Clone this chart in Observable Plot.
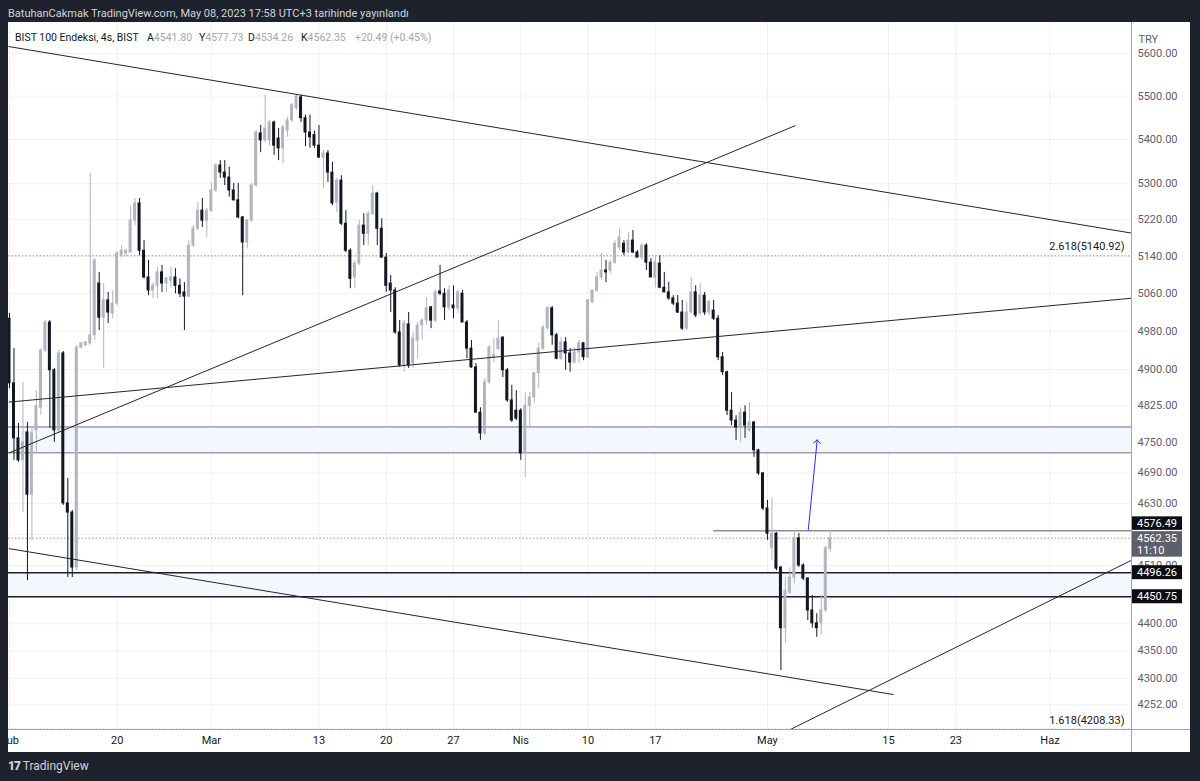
<!DOCTYPE html>
<html><head><meta charset="utf-8">
<script src="https://cdn.jsdelivr.net/npm/d3@7"></script>
<script src="https://cdn.jsdelivr.net/npm/@observablehq/plot@0.6"></script>
<style>
html,body{margin:0;padding:0;background:#1e222d;width:1200px;height:781px;overflow:hidden;font-family:Roboto,"Liberation Sans",sans-serif;}
#top{position:absolute;left:8px;top:7px;color:#d1d4dc;font-size:11px;white-space:pre;}
#panel{position:absolute;left:8px;top:22px;width:1182px;height:730px;background:#fff;overflow:hidden;}
#legend{position:absolute;left:0;top:9px;font-size:10.5px;color:#131722;white-space:pre;}
#legend span{position:absolute;top:0;}
#legend .v{color:#a3a6af;position:static;}
#logo{position:absolute;left:8px;top:759px;color:#d1d4dc;font-size:12px;white-space:pre;}
#logo b{font-weight:900;letter-spacing:-1px;}
.sepV{position:absolute;left:1123px;top:0;width:1px;height:730px;background:#a3a6af;}
.sepH{position:absolute;left:0;top:707px;width:1182px;height:1px;background:#a3a6af;}
</style></head><body>
<div id="top">BatuhanCakmak TradingView.com, May 08, 2023 17:58 UTC+3 tarihinde yayınlandı</div>
<div id="panel"><div id="chart"></div><div class="sepV"></div><div class="sepH"></div><div id="legend"></div></div>
<div id="logo"><b>17</b> TradingView</div>
<script>
// ---- data (BIST 100, 4h candles, index 0 = 1 Feb 2023) ----
const open = [5006,4871,4759,4715,4771,4647,4775,4821,4939,4998,4898,4775,4933,4630,4612,4506,4945,4950,4954,4971,
5081,5008,5045,5017,5038,5141,5146,5148,5218,5256,5152,5094,5066,5076,5105,5081,5087,5094,5076,5062,
5053,5163,5200,5240,5218,5240,5285,5341,5325,5314,5285,5263,5225,5170,5218,5296,5414,5398,5398,5439,
5402,5380,5421,5444,5472,5497,5449,5416,5410,5386,5359,5368,5325,5258,5307,5211,5152,5094,5124,5207,
5189,5233,5278,5200,5137,5081,5066,4977,4908,4994,4912,4960,4992,5002,5030,5002,5064,5059,5030,5034,
5028,5059,4998,4943,4904,4811,4769,4873,4925,4943,4966,4898,4836,4815,4815,4729,4825,4842,4892,4943,
4987,5028,4971,4922,4956,4933,4914,4935,4954,4925,5041,5066,5094,5109,5109,5126,5159,5167,5148,5174,
5148,5137,5163,5126,5094,5124,5072,5062,5049,5038,5019,4985,5019,5062,5017,5055,5019,5023,5006,4925,
4894,4815,4795,4781,4811,4775,4791,4735,4689,4620,4543,4571,4506,4392,4458,4487,4562,4510,4485,4425,
4401,4401,4425,4541.80];
const high = [5017,4943,4789,4873,4791,4779,4856,4943,5002,5002,4902,4939,4937,4679,4616,4950,4956,4958,5323,5135,
5105,5081,5062,5066,5150,5163,5156,5251,5267,5267,5174,5131,5083,5116,5120,5094,5116,5113,5091,5083,
5174,5207,5258,5267,5245,5303,5345,5352,5352,5337,5301,5301,5227,5220,5301,5421,5432,5502,5444,5442,
5425,5432,5451,5483,5504,5502,5456,5456,5419,5432,5375,5375,5348,5312,5318,5240,5156,5131,5218,5233,
5238,5296,5281,5222,5146,5098,5072,5002,5002,5019,4977,4998,5006,5051,5032,5066,5120,5070,5076,5076,
5066,5066,5002,4960,4912,4821,4881,4950,4964,5002,4968,4902,4867,4856,4819,4852,4852,4894,4954,4992,
5032,5032,4975,4966,4966,4943,4945,4960,4956,5045,5066,5105,5146,5131,5131,5174,5200,5174,5192,5196,
5152,5167,5167,5135,5141,5141,5105,5083,5055,5055,5045,5041,5094,5076,5081,5062,5045,5045,5013,4935,
4896,4852,4805,4821,4825,4832,4793,4737,4691,4636,4640,4573,4508,4487,4506,4577,4571,4513,4487,4453,
4419,4453,4547,4577.73];
const low = [4860,4715,4711,4612,4481,4558,4731,4805,4935,4779,4751,4769,4626,4487,4487,4500,4943,4948,4950,4960,
4981,4902,4996,5006,5034,5137,5139,5146,5207,5141,5091,5055,5049,5049,5062,5062,5072,5059,5051,4981,
5051,5159,5196,5203,5181,5236,5281,5312,5296,5270,5261,5222,5055,5156,5214,5292,5370,5393,5386,5364,
5352,5345,5405,5439,5467,5439,5384,5380,5380,5357,5289,5303,5251,5236,5207,5148,5070,5070,5120,5163,
5163,5229,5163,5135,5062,5019,4973,4904,4894,4902,4902,4922,4960,4992,4985,4998,5055,5002,5023,5006,
5017,4998,4922,4902,4811,4755,4765,4869,4914,4939,4883,4832,4791,4795,4715,4681,4781,4830,4860,4939,
4981,4950,4920,4918,4898,4894,4912,4912,4918,4922,5038,5062,5087,5083,5102,5122,5152,5141,5146,5146,
5137,5131,5109,5094,5072,5070,5062,5045,5034,5017,4981,4981,5017,5008,5013,5013,5013,5002,4918,4887,
4805,4785,4755,4751,4759,4771,4721,4685,4616,4558,4519,4500,4314,4364,4456,4475,4506,4481,4406,4392,
4375,4379,4421,4534.26];
const close = [4871,4759,4715,4751,4647,4769,4824,4939,4998,4898,4775,4933,4630,4612,4506,4945,4954,4956,4971,5131,
5008,5045,5019,5038,5146,5152,5152,5218,5256,5152,5094,5066,5076,5105,5081,5091,5094,5076,5059,5053,
5163,5200,5240,5218,5240,5285,5341,5325,5314,5285,5263,5225,5170,5218,5296,5416,5398,5425,5439,5386,
5380,5428,5444,5479,5499,5449,5416,5405,5386,5359,5368,5325,5256,5307,5211,5152,5091,5124,5207,5189,
5233,5278,5200,5137,5076,5066,4977,4908,4996,4908,4964,4992,5002,5028,5002,5062,5059,5030,5066,5028,
5062,4998,4943,4904,4811,4769,4873,4945,4929,4964,4898,4836,4795,4799,4729,4825,4842,4892,4943,4987,
5028,4971,4922,4956,4933,4914,4935,4954,4925,5045,5066,5094,5109,5105,5126,5167,5181,5148,5174,5148,
5137,5163,5126,5094,5126,5072,5062,5049,5038,5019,4985,5019,5062,5013,5055,5019,5041,5006,4925,4894,
4815,4795,4781,4811,4785,4791,4735,4689,4620,4571,4571,4504,4392,4462,4487,4562,4510,4485,4425,4401,
4392,4425,4543,4562.35];

const timeTickIdx = [0,24,45,69,84,99,114,129,144,169,196,211,232];
const timeTickLabels = ["Şub","20","Mar","13","20","27","Nis","10","17","May","15","23","Haz"];
const priceGrid = [5600,5500,5400,5300,5220,5140,5060,4980,4900,4825,4750,4690,4630,4570,4510,4450,4400,4350,4300,4252];
const priceLabels = [5600,5500,5400,5300,5220,5140,5060,4980,4900,4825,4750,4690,4630,4510,4400,4350,4300,4252];

// trend lines (bar index, price)
const trendX1 = [-0.223, -0.15, -0.15, -0.15, 174.1];
const trendP1 = [5616.6, 4729.6, 4832.5, 4542.3, 4207.8];
const trendX2 = [250.17, 175.25, 250.17, 197.1, 250.17];
const trendP2 = [5190.5, 5432, 5049.5, 4270.4, 4520];

const zoneTop = [4782, 4496.26];
const zoneBottom = [4730, 4450.75];
const resistanceLevel = 4576.49, resistanceStart = 157;
const fibLevels = [5140.92, 4208.33];
const fibLabels = ["2.618(5140.92)", "1.618(4208.33)"];
const lastPrice = 4562.35;
const arrowFrom = [178.1, 4578], arrowTo = [180.1, 4756];
const boxValues = [4576.49, 4562.35, 4496.26, 4450.75];
const boxTexts = [["4576.49"], ["4562.35", "11:10"], ["4496.26"], ["4450.75"]];
const change = "+20.49", changePct = "(+0.45%)";

// ---- build ----
const candles = open.map((o, i) => ({i, o, h: high[i], l: low[i], c: close[i], up: close[i] >= o}));
const trends = trendX1.map((x, k) => ({x1: x, y1: trendP1[k], x2: trendX2[k], y2: trendP2[k]}));
const zones = zoneTop.map((t, k) => ({top: t, bottom: zoneBottom[k], k}));
const tickLabel = new Map(timeTickIdx.map((d, k) => [d, timeTickLabels[k]]));

const W = 1182, H = 730, MR = 59, MB = 23;
const xDomain = [-0.223, 250.17];
const yDomain = [4207.8, 5673.9];
const UP = "#b2b5be", DOWN = "#131722";
const FONT = "Roboto, 'Liberation Sans', sans-serif";

const plot = Plot.plot({
  width: W, height: H, marginTop: 0, marginLeft: 0, marginRight: MR, marginBottom: MB,
  x: {domain: xDomain, axis: null},
  y: {type: "log", domain: yDomain, axis: null},
  style: {fontFamily: FONT, fontSize: "11px", background: "transparent", overflow: "hidden"},
  marks: [
    Plot.gridY(priceGrid, {stroke: "#eef0f5", strokeOpacity: 1}),
    Plot.gridX(timeTickIdx, {stroke: "#eef0f5", strokeOpacity: 1}),
    Plot.rect(zones, {y1: "top", y2: "bottom", fill: "#f2f8fd"}),
    Plot.ruleY(zones.filter(z => z.k === 0).flatMap(z => [z.top, z.bottom]), {stroke: "#6e717c", strokeWidth: 1}),
    Plot.ruleY(zones.filter(z => z.k === 1).flatMap(z => [z.top, z.bottom]), {stroke: "#1c1f28", strokeWidth: 1.5}),
    Plot.ruleY(fibLevels, {stroke: "#9598a1", strokeDasharray: "1.5,2", strokeWidth: 1}),
    Plot.ruleY([lastPrice], {stroke: "#9598a1", strokeDasharray: "1.5,2", strokeWidth: 1}),
    Plot.ruleY([resistanceLevel], {x1: resistanceStart, x2: xDomain[1], stroke: "#555862", strokeWidth: 1}),
    Plot.ruleX(candles, {x: "i", y1: "l", y2: "h", stroke: d => d.up ? UP : DOWN, strokeWidth: 1}),
    Plot.rect(candles, {x1: d => d.i - 0.335, x2: d => d.i + 0.335, y1: d => Math.min(d.o, d.c), y2: d => Math.max(d.o, d.c),
      fill: d => d.up ? UP : DOWN, insetTop: -0.5, insetBottom: -0.5}),
    Plot.link(trends, {x1: "x1", y1: "y1", x2: "x2", y2: "y2", stroke: "#222530", strokeWidth: 1, clip: true}),
    Plot.arrow([{}], {x1: () => arrowFrom[0], y1: () => arrowFrom[1], x2: () => arrowTo[0], y2: () => arrowTo[1],
      stroke: "#2b2bf0", strokeWidth: 1, headLength: 7, headAngle: 90}),
    Plot.text(fibLabels, {y: (d, k) => fibLevels[k], frameAnchor: "right", textAnchor: "end", dx: -7, dy: -9, fill: "#131722", fontSize: 11}),
    Plot.axisY(priceLabels, {anchor: "right", tickSize: 0, tickPadding: 6, tickFormat: d => d.toFixed(2), fill: "#5d606b", label: null}),
    Plot.axisX(timeTickIdx, {anchor: "bottom", tickSize: 0, tickPadding: 7, tickFormat: d => tickLabel.get(d), fill: "#131722", label: null}),
    Plot.text(["TRY"], {frameAnchor: "top-right", dx: 7, dy: 13, textAnchor: "start", fill: "#5d606b", fontSize: 11})
  ]
});
document.getElementById("chart").appendChild(plot);

// price labels boxed on the axis, positioned with the plot's y scale
const ys = plot.scale("y");
const svg = d3.select(plot);
const boxTop = [-14, -6.5, -7, -7];
const boxH = [13.5, 25.5, 14, 14];
const boxFill = ["#0b0d12", "#5d606b", "#0b0d12", "#0b0d12"];
boxValues.forEach((v, k) => {
  const y = ys.apply(v);
  const g = svg.append("g").attr("text-anchor", "start");
  g.append("rect").attr("x", W - MR).attr("y", y + boxTop[k]).attr("width", 51).attr("height", boxH[k]).attr("fill", boxFill[k]);
  boxTexts[k].forEach((t, j) => g.append("text").attr("x", W - MR + 6).attr("y", y + boxTop[k] + 10.5 + j * 12.5)
    .attr("text-anchor", "start").attr("fill", "#fff").attr("font-size", 11).attr("font-family", FONT).text(t));
});

// legend (header of the pane), values from the last candle
const L = candles[candles.length - 1];
const f = v => v.toFixed(2);
const legendParts = [
  [7, `BIST 100 Endeksi, 4s, BIST`],
  [139, `A<span class="v">${f(L.o)}</span>`],
  [191, `Y<span class="v">${f(L.h)}</span>`],
  [240, `D<span class="v">${f(L.l)}</span>`],
  [293, `K<span class="v">${f(L.c)}</span>`],
  [347, `<span class="v">${change}</span>`],
  [382, `<span class="v">${changePct}</span>`]
];
document.getElementById("legend").innerHTML = legendParts.map(([x, h]) => `<span style="left:${x}px">${h}</span>`).join("");
</script>
</body></html>
